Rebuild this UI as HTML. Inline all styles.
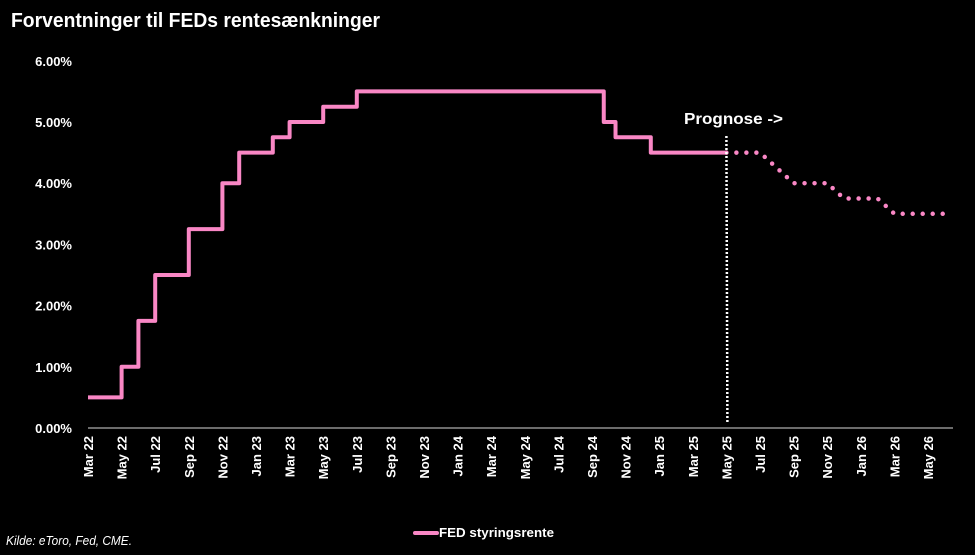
<!DOCTYPE html>
<html><head><meta charset="utf-8"><style>
html,body{margin:0;padding:0;background:#000;}
svg{display:block;}
text{font-family:"Liberation Sans",sans-serif;fill:#fff;}
</style></head><body>
<svg id="chart" width="975" height="555" viewBox="0 0 975 555">
<rect width="975" height="555" fill="#000"/>
<text x="11" y="27" font-size="20" font-weight="bold" textLength="369" lengthAdjust="spacingAndGlyphs">Forventninger til FEDs rentesænkninger</text>
<g id="yaxis"></g>
<g id="xaxis"></g>
<line x1="88" y1="428" x2="953" y2="428" stroke="#d9d9d9" stroke-width="1"/>
<g id="series"></g>
<text x="684" y="124" font-size="16" font-weight="bold" textLength="99" lengthAdjust="spacingAndGlyphs">Prognose -&gt;</text>
<g>
<line x1="415" y1="533" x2="437" y2="533" stroke="#f987c5" stroke-width="4" stroke-linecap="round"/>
<text x="439" y="537" font-size="13" font-weight="bold" textLength="115" lengthAdjust="spacingAndGlyphs">FED styringsrente</text>
</g>
<text x="6" y="545" font-size="13" font-style="italic" textLength="126" lengthAdjust="spacingAndGlyphs">Kilde: eToro, Fed, CME.</text>
</svg>
<script>
// Data
const xLabels = ["Mar 22","May 22","Jul 22","Sep 22","Nov 22","Jan 23","Mar 23","May 23","Jul 23","Sep 23","Nov 23","Jan 24","Mar 24","May 24","Jul 24","Sep 24","Nov 24","Jan 25","Mar 25","May 25","Jul 25","Sep 25","Nov 25","Jan 26","Mar 26","May 26"];
const yTicks = [0,1,2,3,4,5,6];
// historical step changes: month index since Mar 22 and rate value
const stepMonths = [0,2,3,4,6,8,9,11,12,14,16,30.7,31.4,33.5];
const stepRates  = [0.5,1.0,1.75,2.5,3.25,4.0,4.5,4.75,5.0,5.25,5.5,5.0,4.75,4.5];
const histEnd = 38;
// forecast monthly values (May 25 .. Jun 26)
const fcMonths = [38,39,40,41,42,43,44,45,46,47,48,49,50,51];
const fcRates  = [4.5,4.5,4.5,4.25,4.0,4.0,4.0,3.75,3.75,3.75,3.5,3.5,3.5,3.5];
const forecastStart = 38;

const NS="http://www.w3.org/2000/svg";
const xS = m => 88 + 16.8*m;
const yS = v => 428 - 61.2*v;
function mk(tag, attrs, parent){const e=document.createElementNS(NS,tag);for(const k in attrs)e.setAttribute(k,attrs[k]);parent.appendChild(e);return e;}

const ya=document.getElementById('yaxis');
yTicks.forEach(v=>{
  const t=mk('text',{x:72,y:yS(v)+5,'font-size':13,'font-weight':'bold','text-anchor':'end'},ya);
  
  
  t.textContent=v.toFixed(2)+'%';
});
const xa=document.getElementById('xaxis');
xLabels.forEach((l,i)=>{
  const x=xS(i*2)+5;
  const t=mk('text',{x:0,y:0,'font-size':13,'font-weight':'bold','text-anchor':'end',transform:`translate(${x},436) rotate(-90)`},xa);
  
  
  t.textContent=l;
});

const sg=document.getElementById('series');
let d='';
stepMonths.forEach((m,i)=>{
  const x=xS(m), y=yS(stepRates[i]);
  if(i===0) d+=`M${x},${y}`; else d+=`V${y}`;
  const next = i<stepMonths.length-1 ? stepMonths[i+1] : histEnd;
  d+=`H${xS(next)}`;
});
const hp=mk('path',{d:d,fill:'none',stroke:'#f987c5','stroke-width':4,'stroke-linejoin':'round'},sg);



let fd='';
fcMonths.forEach((m,i)=>{fd+=(i?'L':'M')+xS(m)+','+yS(fcRates[i]);});
const fp=mk('path',{d:fd,fill:'none',stroke:'#f987c5','stroke-width':4.5,'stroke-linecap':'round','stroke-dasharray':'0 10'},sg);



const vl=mk('line',{x1:xS(forecastStart),y1:136,x2:xS(forecastStart)+1,y2:423,stroke:'#fff','stroke-width':2.5,'stroke-dasharray':'2 2'},sg);


</script>
</body></html>
